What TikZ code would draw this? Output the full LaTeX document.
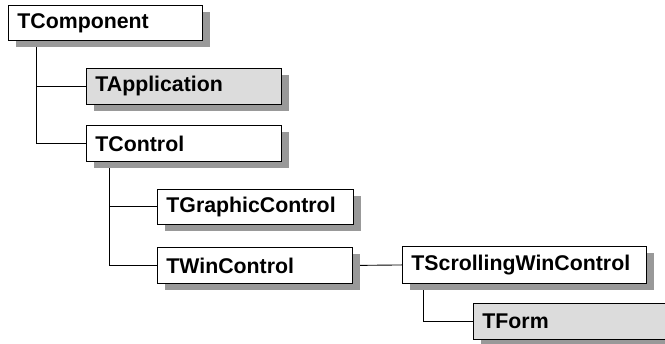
\documentclass[tikz,border=0pt]{standalone}
\usepackage{fontspec}
\setmainfont{Liberation Sans}
\usetikzlibrary{shadows,backgrounds}
\definecolor{shadowgray}{HTML}{999999}
\definecolor{lightfill}{HTML}{DCDCDC}
\begin{document}
\begin{tikzpicture}[x=1pt,y=-1pt,
  cls/.style={draw=black, line width=0.9pt, fill=white, anchor=north west,
    inner xsep=9pt, inner ysep=0pt, align=left,
    font=\fontsize{21.3}{24}\selectfont\bfseries,
    drop shadow={shadow xshift=7.5pt, shadow yshift=-6.5pt, fill=shadowgray, opacity=1}},
  grey/.style={fill=lightfill},
  link/.style={draw=black, line width=0.9pt}]
\clip (0,0) rectangle (665,344);
\useasboundingbox (0,0) rectangle (665,344);
\node[cls, text width=176pt, minimum height=35pt] (comp) at (8,5) {TComponent};
\node[cls, grey, text width=177pt, minimum height=36pt] (app) at (86,68) {TApplication};
\node[cls, text width=177pt, minimum height=36pt] (ctrl) at (86,125) {TControl};
\node[cls, text width=178pt, minimum height=35pt] (gfx) at (157,189) {TGraphicControl};
\node[cls, text width=177pt, minimum height=36pt] (win) at (157,247) {TWinControl};
\node[cls, text width=226pt, minimum height=37pt] (scr) at (402,246) {TScrollingWinControl};
\node[cls, grey, text width=210pt, minimum height=36pt] (form) at (473,303) {TForm};
\begin{pgfonlayer}{background}
\draw[link] (comp.south west) ++(28,0) coordinate (c1) |- (ctrl.west);
\draw[link] (c1 |- app.west) -- (app.west);
\draw[link] (ctrl.south west) ++(23,0) coordinate (c2) |- (win.west);
\draw[link] (c2 |- gfx.west) -- (gfx.west);
\draw[link] (win.east) -- (scr.west);
\draw[link] (scr.south west) ++(21,0) |- (form.west);
\end{pgfonlayer}
\end{tikzpicture}
\end{document}
